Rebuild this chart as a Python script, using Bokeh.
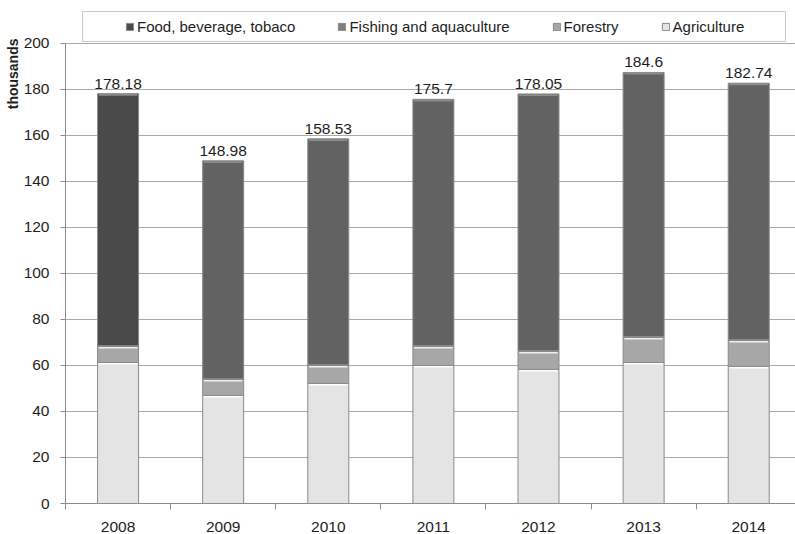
import numpy as np
from bokeh.plotting import figure
from bokeh.models import (ColumnDataSource, Range1d, FixedTicker, Legend, LegendItem,
                          Title, LabelSet, BoxAnnotation)
from bokeh.core.properties import value
from bokeh.embed import file_html
from bokeh.resources import INLINE

# ---- data ----
years = ["2008", "2009", "2010", "2011", "2012", "2013", "2014"]
agriculture = [61.3, 47.0, 52.2, 60.0, 58.3, 61.3, 59.6]
forestry = [7.0, 6.9, 7.8, 8.3, 7.8, 10.9, 11.3]
fishing = [0.3, 0.3, 0.3, 0.4, 0.4, 0.4, 0.4]
food = [109.58, 94.78, 98.23, 107.0, 111.55, 114.8, 111.44]
total_labels = ["178.18", "148.98", "158.53", "175.7", "178.05", "184.6", "182.74"]
y_ticks = [0, 20, 40, 60, 80, 100, 120, 140, 160, 180, 200]

FONT = "Liberation Sans"
TXT = "#1e1e1e"
AX = "#8c8c8c"

xs = np.arange(len(years)) + 0.5
series = [("Agriculture", agriculture), ("Forestry", forestry),
          ("Fishing and aquaculture", fishing), ("Food, beverage, tobaco", food)]
fills = {
    "Agriculture": ["#e4e4e4"] * len(years),
    "Forestry": ["#a7a7a7"] * len(years),
    "Fishing and aquaculture": ["#808080"] * len(years),
    "Food, beverage, tobaco": ["#4a4a4a"] + ["#626262"] * (len(years) - 1),
}
highlight = {"Agriculture": "#ffffff", "Forestry": "#f2f2f2",
             "Fishing and aquaculture": "#bdbdbd", "Food, beverage, tobaco": "#8e8e8e"}

# frame runs from the top of the legend box down to the x axis; axis limited to 0..200
p = figure(width=795, height=534, x_range=Range1d(0, 6.945), y_range=Range1d(0, 215.2),
           output_backend="svg", toolbar_location=None,
           min_border_left=65, min_border_right=0, min_border_top=8, min_border_bottom=31)
p.outline_line_color = None
p.background_fill_color = "white"
p.border_fill_color = "white"

BW = 0.39
bottom = np.zeros(len(years))
renderers = {}
for name, vals in series:
    vals = np.array(vals, dtype=float)
    top = bottom + vals
    src = ColumnDataSource(dict(x=xs, bottom=bottom.copy(), top=top, fill=fills[name],
                                hy=top - 0.55, x0=xs - BW / 2 + 0.012, x1=xs + BW / 2 - 0.012))
    r = p.vbar(x="x", width=BW, bottom="bottom", top="top", source=src,
               fill_color="fill", line_color="#8a8a8a", line_width=1)
    if name != "Fishing and aquaculture":
        p.segment(x0="x0", x1="x1", y0="hy", y1="hy", source=src,
                  line_color=highlight[name], line_width=1.6, line_alpha=0.95)
    renderers[name] = r
    bottom = top

lab_src = ColumnDataSource(dict(x=xs, y=bottom, t=total_labels))
p.add_layout(LabelSet(x="x", y="y", text="t", source=lab_src, text_align="center",
                      text_baseline="bottom", y_offset=5, text_font=value(FONT),
                      text_font_size=value("15.5px"), text_color=TXT))

# axes
p.ygrid.grid_line_color = "#a8a8a8"
p.xgrid.grid_line_color = None
p.yaxis.ticker = FixedTicker(ticks=y_ticks)
p.yaxis.bounds = (0, 200)
p.yaxis.major_tick_out = 5
p.yaxis.major_tick_in = 0
p.yaxis.minor_tick_line_color = None
p.yaxis.axis_line_color = AX
p.yaxis.major_tick_line_color = AX
p.yaxis.major_label_standoff = 11
p.yaxis.major_label_text_font = FONT
p.yaxis.major_label_text_font_size = "15.5px"
p.yaxis.major_label_text_color = TXT

p.xaxis.ticker = FixedTicker(ticks=list(xs), minor_ticks=list(range(len(years) + 1)))
p.xaxis.major_label_overrides = {float(v): y for v, y in zip(xs, years)}
p.xaxis.major_tick_out = 0
p.xaxis.major_tick_in = 0
p.xaxis.minor_tick_out = 6
p.xaxis.minor_tick_in = 0
p.xaxis.minor_tick_line_color = AX
p.xaxis.axis_line_color = AX
p.xaxis.major_label_standoff = 12
p.xaxis.major_label_text_font = FONT
p.xaxis.major_label_text_font_size = "15.5px"
p.xaxis.major_label_text_color = TXT

ttl = Title(text="thousands", align="right", text_font=FONT, text_font_size="14px",
            text_font_style="bold", text_color=TXT, standoff=0, offset=30)
p.add_layout(ttl, "left")

# legend box + legend
p.add_layout(BoxAnnotation(left=17, right=720, bottom=462, top=492,
                           left_units="screen", right_units="screen",
                           bottom_units="screen", top_units="screen",
                           fill_color="white", fill_alpha=1,
                           line_color="#4d4d4d", line_width=1))
order = ["Food, beverage, tobaco", "Fishing and aquaculture", "Forestry", "Agriculture"]
legend = Legend(items=[LegendItem(label=n, renderers=[renderers[n]]) for n in order],
                orientation="horizontal", location=(60, 466), padding=0, spacing=42,
                glyph_width=9, glyph_height=9, label_standoff=3, label_height=22,
                label_text_font=FONT, label_text_font_size="15px", label_text_color=TXT,
                border_line_color=None, background_fill_alpha=0, margin=0)
p.add_layout(legend, "center")

open("out.html", "w").write(file_html(p, INLINE))
